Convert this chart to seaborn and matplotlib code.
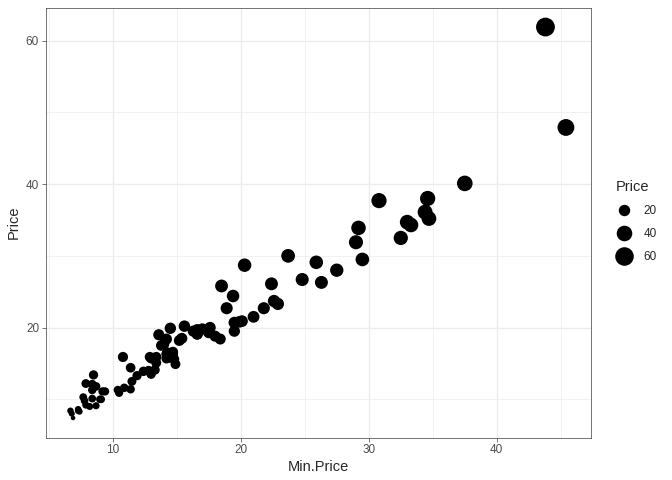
import numpy as np
import pandas as pd
import matplotlib
matplotlib.use("Agg")
import matplotlib.pyplot as plt
import seaborn as sns
from matplotlib.lines import Line2D

min_price = [12.9, 29.2, 25.9, 30.8, 23.7, 14.2, 19.9, 22.6, 26.3, 33.0, 37.5, 8.5, 11.4, 13.4, 13.4,
             14.7, 14.7, 18.0, 34.6, 18.4, 14.5, 29.5, 7.9, 8.4, 11.9, 13.6, 14.8, 18.5, 7.9, 17.5,
             6.9, 8.4, 10.4, 10.8, 12.8, 14.5, 15.6, 20.1, 6.7, 11.5, 17.0, 8.4, 13.8, 6.8, 9.0,
             9.1, 12.4, 45.4, 27.5, 34.7, 33.3, 34.4, 7.4, 10.9, 14.3, 16.6, 32.5, 29.0, 43.8, 13.3,
             14.9, 7.7, 22.4, 8.7, 13.0, 16.6, 21.0, 13.0, 14.2, 19.5, 19.5, 11.4, 8.2, 9.4, 14.0,
             15.4, 19.4, 20.3, 9.2, 7.3, 10.5, 16.3, 7.3, 7.8, 14.2, 15.2, 18.9, 8.7, 16.6, 17.6,
             22.9, 21.8, 24.8]
price = [15.9, 33.9, 29.1, 37.7, 30.0, 15.7, 20.8, 23.7, 26.3, 34.7, 40.1, 13.4, 11.4, 15.1, 15.9,
         16.3, 16.6, 18.8, 38.0, 18.4, 15.8, 29.5, 9.2, 11.3, 13.3, 19.0, 15.6, 25.8, 12.2, 19.3,
         7.4, 10.1, 11.3, 15.9, 14.0, 19.9, 20.2, 20.9, 8.4, 12.5, 19.8, 12.1, 17.5, 8.0, 10.0,
         10.0, 13.9, 47.9, 28.0, 35.2, 34.3, 36.1, 8.3, 11.6, 16.5, 19.1, 32.5, 31.9, 61.9, 14.1,
         14.9, 10.3, 26.1, 11.8, 15.7, 19.1, 21.5, 13.5, 16.3, 19.5, 20.7, 14.4, 9.0, 11.1, 17.7,
         18.5, 24.4, 28.7, 11.1, 8.4, 10.9, 19.5, 8.6, 9.8, 18.4, 18.2, 22.7, 9.1, 19.7, 20.0,
         23.3, 22.7, 26.7]
legend_breaks = [20, 40, 60]
x_ticks = [10, 20, 30, 40]
y_ticks = [20, 40, 60]

df = pd.DataFrame({"Min.Price": min_price, "Price": price})

pmin, pmax = min(price), max(price)
DPI = 96

def gg_area(p):
    t = (p - pmin) / (pmax - pmin)
    s = 1 + 5 * np.sqrt(max(t, 0))
    d_pt = 0.75 * (s * 72.27 / 25.4 + 0.94) + 0.6
    return d_pt

sns.set_style("white")
plt.rcParams['font.family'] = ['Liberation Sans', 'DejaVu Sans']

fig = plt.figure(figsize=(672 / DPI, 480 / DPI), dpi=DPI)
ax = fig.add_axes([45.7 / 672, 1 - 437.5 / 480, (590.7 - 45.7) / 672, (437.5 - 7.5) / 480])

sizes = {p: gg_area(p) ** 2 for p in set(price)}
sns.scatterplot(data=df, x="Min.Price", y="Price", size="Price", sizes=sizes,
                color="black", linewidth=0, legend=False, ax=ax, zorder=3)

xr = max(min_price) - min(min_price)
yr = pmax - pmin
ax.set_xlim(min(min_price) - 0.05 * xr, max(min_price) + 0.05 * xr)
ax.set_ylim(pmin - 0.05 * yr, pmax + 0.05 * yr)
ax.set_xticks(x_ticks)
ax.set_yticks(y_ticks)
ax.set_xticks([5, 15, 25, 35, 45], minor=True)
ax.set_yticks([10, 30, 50], minor=True)
ax.grid(True, which="major", color="#EBEBEB", linewidth=1.0)
ax.grid(True, which="minor", color="#EBEBEB", linewidth=0.5)
ax.set_axisbelow(True)
for sp in ax.spines.values():
    sp.set_color("#333333")
    sp.set_linewidth(0.5)
ax.tick_params(axis="both", which="major", length=2.75, width=0.5, color="#333333",
               labelsize=8.8, labelcolor="#4D4D4D", pad=2.2, bottom=True, left=True)
ax.tick_params(axis="both", which="minor", length=0)
ax.set_xlabel("Min.Price", fontsize=11, labelpad=3)
ax.set_ylabel("Price", fontsize=11, labelpad=4)

handles = [Line2D([], [], linestyle="none", marker="o", markersize=gg_area(b),
                  markerfacecolor="black", markeredgewidth=0) for b in legend_breaks]
leg = fig.legend(handles, [str(b) for b in legend_breaks], title="Price",
                 loc="upper left", bbox_to_anchor=(608 / 672, 1 - 172 / 480),
                 frameon=False, fontsize=8.8, title_fontsize=11,
                 handlelength=1.4, handletextpad=0.9, labelspacing=0.95, borderpad=0.2)
leg._legend_box.align = "left"
leg._legend_box.sep = 8

fig.savefig("out.png", dpi=DPI)
